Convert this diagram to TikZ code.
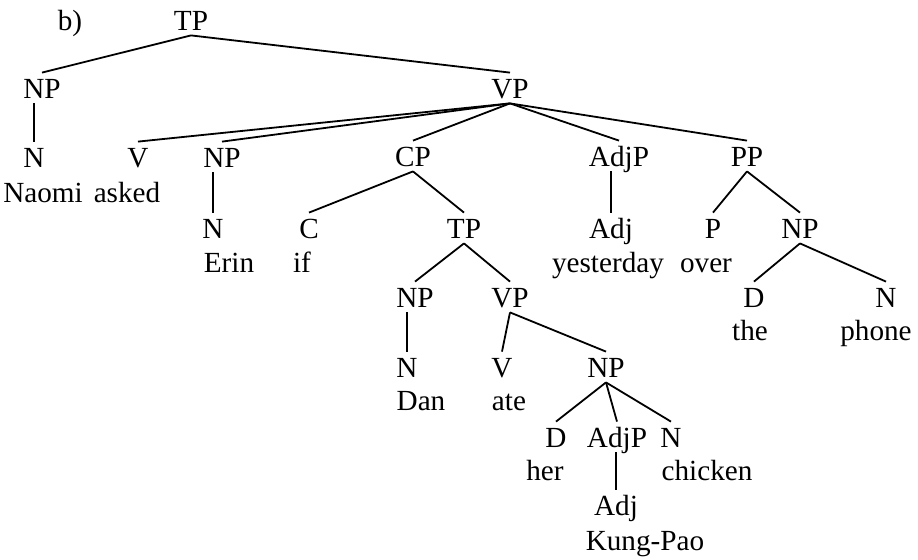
\documentclass[tikz,border=0pt]{standalone}
\usepackage{fontspec}
\setmainfont{Liberation Serif}
\begin{document}
\begin{tikzpicture}[x=0.5pt,y=-0.5pt,
  lab/.style={anchor=base,font=\fontsize{14.6}{17}\selectfont,text height=10pt,text depth=0pt,inner ysep=2.5pt,inner xsep=1pt},
  wd/.style={anchor=base,font=\fontsize{14.6}{17}\selectfont,inner sep=1pt},
  edge/.style={line width=0.9pt}]
\useasboundingbox (0,0) rectangle (918,559);
% labels
\node[wd] (b) at (70,30) {b)};
\node[lab] (tp) at (191,30) {TP};
\node[lab] (np1) at (42,98) {NP};
\node[lab] (vp) at (510,98) {VP};
\node[lab] (n1) at (34,167) {N};
\node[wd] (naomi) at (43,202) {Naomi};
\node[lab] (v1) at (138,167) {V};
\node[wd] (asked) at (127,202) {asked};
\node[lab] (np2) at (222,167) {NP};
\node[lab] (n2) at (213,238) {N};
\node[wd] (erin) at (229,272) {Erin};
\node[lab] (cp) at (413,166) {CP};
\node[lab] (c) at (309,238) {C};
\node[wd] (if) at (302,272) {if};
\node[lab] (tp2) at (464,238) {TP};
\node[lab] (np3) at (415,307) {NP};
\node[lab] (n3) at (407,377) {N};
\node[wd] (dan) at (421,410) {Dan};
\node[lab] (vp2) at (510,307) {VP};
\node[lab] (v2) at (502,377) {V};
\node[wd] (ate) at (509,410) {ate};
\node[lab] (np4) at (606,377) {NP};
\node[lab] (d1) at (556,447) {D};
\node[wd] (her) at (545,480) {her};
\node[lab] (adjp2) at (617,447) {AdjP};
\node[lab] (adj2) at (616,515) {Adj};
\node[wd] (kp) at (645,550) {Kung-Pao};
\node[lab] (n4) at (671,447) {N};
\node[wd] (chicken) at (707,480) {chicken};
\node[lab] (adjp1) at (619,166) {AdjP};
\node[lab] (adj1) at (611,238) {Adj};
\node[wd] (yest) at (608,272) {yesterday};
\node[lab] (pp) at (747,166) {PP};
\node[lab] (p) at (713,238) {P};
\node[wd] (over) at (706,272) {over};
\node[lab] (np5) at (800,238) {NP};
\node[lab] (d2) at (754,307) {D};
\node[wd] (the) at (750,340) {the};
\node[lab] (n5) at (886,307) {N};
\node[wd] (phone) at (876,340) {phone};
% edges
\begin{scope}[edge]
\draw (tp.south) -- (np1.north);
\draw (tp.south) -- (vp.north);
\draw (n1.north) -- (n1.north |- np1.south);
\draw (vp.south) -- (v1.north);
\draw (vp.south) -- (np2.north);
\draw (vp.south) -- (cp.north);
\draw (vp.south) -- (adjp1.north);
\draw (vp.south) -- (pp.north);
\draw (n2.north) -- (n2.north |- np2.south);
\draw (cp.south) -- (c.north);
\draw (cp.south) -- (tp2.north);
\draw (adj1.north) -- (adj1.north |- adjp1.south);
\draw (pp.south) -- (p.north);
\draw (pp.south) -- (np5.north);
\draw (tp2.south) -- (np3.north);
\draw (tp2.south) -- (vp2.north);
\draw (np5.south) -- (d2.north);
\draw (np5.south) -- (n5.north);
\draw (n3.north) -- (n3.north |- np3.south);
\draw (vp2.south) -- (v2.north);
\draw (vp2.south) -- (np4.north);
\draw (np4.south) -- (d1.north);
\draw (np4.south) -- (adjp2.north);
\draw (np4.south) -- (n4.north);
\draw (adj2.north) -- (adj2.north |- adjp2.south);
\end{scope}
\end{tikzpicture}
\end{document}
